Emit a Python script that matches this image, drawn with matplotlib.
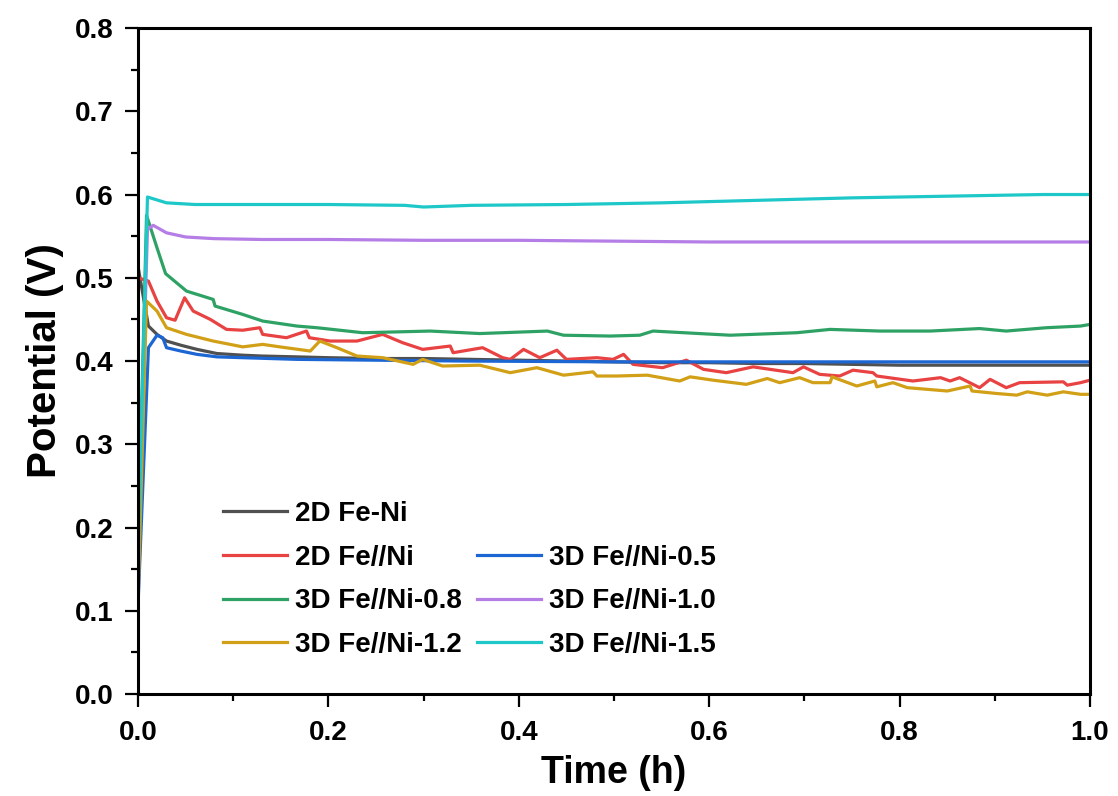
import matplotlib
matplotlib.use("Agg")
import matplotlib.pyplot as plt
from matplotlib.lines import Line2D
from matplotlib.ticker import MultipleLocator, FormatStrFormatter

t_feni = [0, 0.011, 0.02, 0.03, 0.045, 0.062, 0.083, 0.11, 0.13, 0.167, 0.2, 0.25, 0.3,
          0.35, 0.4, 0.45, 0.5, 0.55, 0.6, 0.65, 0.7, 0.75, 0.8, 0.85, 0.9, 0.95, 1.0]
v_feni = [0.514, 0.442, 0.432, 0.424, 0.419, 0.414, 0.409, 0.407, 0.406, 0.405, 0.404, 0.403, 0.403,
          0.402, 0.401, 0.400, 0.399, 0.398, 0.398, 0.397, 0.397, 0.396, 0.395, 0.395, 0.395, 0.395, 0.395]

t_2d = [0, 0.011, 0.02, 0.03, 0.039, 0.049, 0.058, 0.076, 0.093, 0.11, 0.128, 0.131, 0.156, 0.177,
        0.18, 0.202, 0.23, 0.257, 0.278, 0.299, 0.328, 0.331, 0.362, 0.383, 0.391, 0.405, 0.422,
        0.44, 0.45, 0.482, 0.499, 0.51, 0.52, 0.551, 0.576, 0.594, 0.618, 0.646, 0.688, 0.699,
        0.716, 0.737, 0.751, 0.772, 0.776, 0.814, 0.843, 0.853, 0.863, 0.884, 0.895, 0.912,
        0.926, 0.972, 0.976, 0.99, 1.0]
v_2d = [0.500, 0.496, 0.472, 0.452, 0.449, 0.476, 0.460, 0.450, 0.438, 0.437, 0.440, 0.432, 0.428, 0.436,
        0.428, 0.424, 0.424, 0.432, 0.422, 0.414, 0.418, 0.410, 0.416, 0.404, 0.402, 0.414, 0.404,
        0.413, 0.402, 0.404, 0.402, 0.408, 0.396, 0.392, 0.401, 0.390, 0.386, 0.393, 0.386, 0.393,
        0.384, 0.382, 0.389, 0.386, 0.382, 0.376, 0.380, 0.376, 0.380, 0.368, 0.378, 0.368,
        0.374, 0.375, 0.371, 0.374, 0.377]

t_05 = [0, 0.011, 0.02, 0.026, 0.03, 0.045, 0.062, 0.083, 0.11, 0.167, 0.25, 0.34, 0.5, 0.7, 0.85, 1.0]
v_05 = [0.105, 0.416, 0.431, 0.428, 0.416, 0.412, 0.408, 0.405, 0.404, 0.402, 0.401, 0.400, 0.399,
        0.399, 0.399, 0.399]

t_08 = [0, 0.009, 0.02, 0.029, 0.051, 0.079, 0.081, 0.11, 0.131, 0.167, 0.188, 0.236, 0.272, 0.307,
        0.359, 0.43, 0.447, 0.496, 0.527, 0.541, 0.622, 0.692, 0.727, 0.779, 0.832, 0.884, 0.912,
        0.954, 0.99, 1.0]
v_08 = [0.17, 0.575, 0.536, 0.505, 0.484, 0.474, 0.466, 0.456, 0.448, 0.442, 0.440, 0.434, 0.435, 0.436,
        0.433, 0.436, 0.431, 0.430, 0.431, 0.436, 0.431, 0.434, 0.438, 0.436, 0.436, 0.439, 0.436,
        0.440, 0.442, 0.444]

t_10 = [0, 0.01, 0.016, 0.03, 0.05, 0.08, 0.13, 0.2, 0.3, 0.4, 0.5, 0.6, 0.7, 0.8, 0.9, 1.0]
v_10 = [0.17, 0.558, 0.563, 0.554, 0.549, 0.547, 0.546, 0.546, 0.545, 0.545, 0.544, 0.543, 0.543,
        0.543, 0.543, 0.543]

t_12 = [0, 0.009, 0.02, 0.03, 0.051, 0.079, 0.11, 0.131, 0.149, 0.181, 0.191, 0.209, 0.23, 0.257,
        0.289, 0.299, 0.32, 0.359, 0.391, 0.419, 0.447, 0.478, 0.482, 0.503, 0.535, 0.569, 0.58,
        0.604, 0.639, 0.661, 0.674, 0.695, 0.709, 0.727, 0.729, 0.755, 0.774, 0.776, 0.793, 0.808,
        0.85, 0.874, 0.876, 0.902, 0.923, 0.934, 0.955, 0.972, 0.99, 1.0]
v_12 = [0.110, 0.472, 0.460, 0.440, 0.432, 0.424, 0.417, 0.420, 0.417, 0.412, 0.424, 0.416, 0.406, 0.404,
        0.396, 0.402, 0.394, 0.395, 0.386, 0.392, 0.383, 0.387, 0.382, 0.382, 0.383, 0.376, 0.381,
        0.377, 0.372, 0.379, 0.374, 0.380, 0.374, 0.374, 0.381, 0.370, 0.376, 0.369, 0.374, 0.368,
        0.364, 0.370, 0.364, 0.361, 0.359, 0.363, 0.359, 0.363, 0.360, 0.360]

t_15 = [0, 0.01, 0.03, 0.06, 0.1, 0.2, 0.28, 0.3, 0.35, 0.45, 0.55, 0.65, 0.75, 0.85, 0.95, 1.0]
v_15 = [0.163, 0.597, 0.590, 0.588, 0.588, 0.588, 0.587, 0.585, 0.587, 0.588, 0.590, 0.593, 0.596,
        0.598, 0.600, 0.600]

labels = ["2D Fe-Ni", "2D Fe//Ni", "3D Fe//Ni-0.5", "3D Fe//Ni-0.8",
          "3D Fe//Ni-1.0", "3D Fe//Ni-1.2", "3D Fe//Ni-1.5"]
colors = ["#505050", "#e84242", "#1c66d4", "#2ea264", "#b57de6", "#d2a016", "#1ec8c8"]

plt.rcParams['font.family'] = ['Liberation Sans', 'DejaVu Sans']
plt.rcParams['font.weight'] = 'bold'

fig = plt.figure(figsize=(11.18, 7.96), dpi=100)
ax = fig.add_axes([0.1234, 0.1281, 0.8516, 0.8367])

series = [(t_feni, v_feni), (t_2d, v_2d), (t_05, v_05), (t_08, v_08),
          (t_10, v_10), (t_12, v_12), (t_15, v_15)]
lines = []
for (t, v), lab, c in zip(series, labels, colors):
    ln, = ax.plot(t, v, color=c, lw=2.3, label=lab)
    lines.append(ln)

ax.set_xlim(0, 1.0)
ax.set_ylim(0, 0.8)
ax.xaxis.set_major_locator(MultipleLocator(0.2))
ax.xaxis.set_minor_locator(MultipleLocator(0.1))
ax.yaxis.set_major_locator(MultipleLocator(0.1))
ax.yaxis.set_minor_locator(MultipleLocator(0.05))
ax.xaxis.set_major_formatter(FormatStrFormatter('%.1f'))
ax.yaxis.set_major_formatter(FormatStrFormatter('%.1f'))
ax.tick_params(which='major', direction='out', length=9.4, width=1.6, labelsize=20)
ax.tick_params(axis='x', which='major', pad=9)
ax.tick_params(axis='y', which='major', pad=8)
ax.tick_params(which='minor', direction='out', length=4.7, width=1.6)
for sp in ax.spines.values():
    sp.set_linewidth(2.2)

ax.set_xlabel("Time (h)", fontsize=27, fontweight='bold', labelpad=7)
ax.set_ylabel("Potential (V)", fontsize=29, fontweight='bold', labelpad=8)

# blank slot so the second column starts one row lower
blank = Line2D([], [], color='none')
handles = [lines[0], lines[1], lines[3], lines[5], blank, lines[2], lines[4], lines[6]]
leg_labels = [labels[0], labels[1], labels[3], labels[5], " ", labels[2], labels[4], labels[6]]
ax.legend(handles, leg_labels, ncol=2, frameon=False, loc='upper left',
          bbox_to_anchor=(0.0893, 0.29), borderpad=0, borderaxespad=0,
          handlelength=2.3, handletextpad=0.29, columnspacing=0.54, labelspacing=0.64,
          prop={'weight': 'bold', 'size': 20})

fig.savefig("out.png", dpi=100)
